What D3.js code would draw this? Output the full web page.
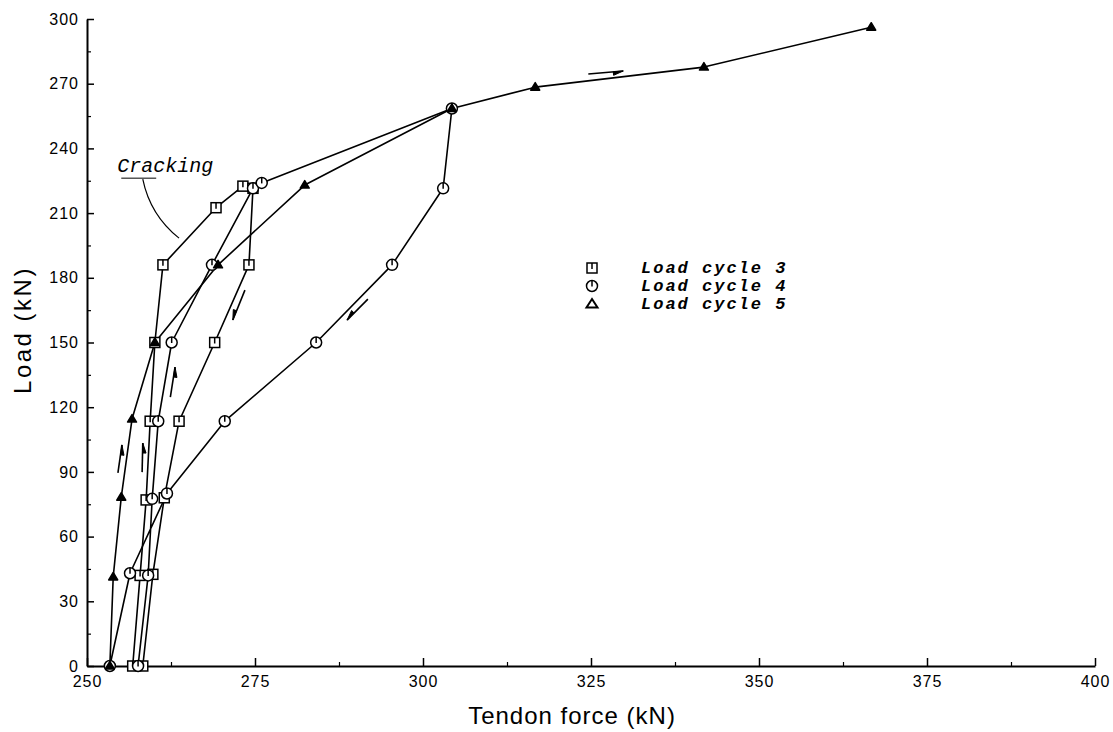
<!DOCTYPE html>
<html>
<head>
<meta charset="utf-8">
<script src="https://cdn.jsdelivr.net/npm/d3@7"></script>
<style>
  body { margin: 0; background: #fff; }
  svg { display: block; }
</style>
</head>
<body>
<div id="chart"></div>
<script>
/** Tendon force vs load, load cycles 3-5 *******************/

// Axis ticks
var xMajorTicks = [250, 275, 300, 325, 350, 375, 400];
var xMinorTicks = [262.5, 287.5, 312.5, 337.5, 362.5, 387.5];
var yMajorTicks = [0, 30, 60, 90, 120, 150, 180, 210, 240, 270, 300];
var yMinorTicks = [15, 45, 75, 105, 135, 165, 195, 225, 255, 285];

// [tendon force (kN), load (kN)]
var cycle3 = [
    [256.8, 0], [257.9, 42], [258.8, 77], [259.4, 113.5], [260.1, 150],
    [261.3, 186], [269.2, 212.5], [273.2, 222.5], [274.7, 221.5],
    [274.1, 186], [269.0, 150], [263.7, 113.5], [261.5, 78],
    [259.8, 42.5], [258.3, 0]
];
var cycle4 = [
    [257.6, 0], [259.1, 42], [259.7, 77.5], [260.6, 113.5], [262.6, 150],
    [268.6, 186], [274.7, 221.5], [276.0, 224], [304.3, 258.5],
    [303.0, 221.5], [295.4, 186], [284.1, 150], [270.5, 113.5],
    [261.9, 80], [256.4, 43], [253.4, 0]
];
var cycle5 = [
    [253.4, 0], [253.9, 41.3], [255.1, 78.3], [256.7, 114.5], [260.1, 150],
    [269.5, 186], [282.4, 223], [304.3, 258.5], [316.7, 268.4],
    [341.8, 277.7], [366.7, 296.2]
];

// Direction arrows [x1, y1, x2, y2] in data units
var arrows = [
    [324.6, 274.5, 329.8, 275.9],
    [291.8, 170.1, 288.7, 160.4],
    [273.5, 174.3, 271.7, 160.4],
    [262.4, 124.7, 263.1, 138.6],
    [254.6, 89.5, 255.2, 102.5],
    [258.2, 89.9, 258.3, 103.4]
];

var legendLabels = ["Load cycle 3", "Load cycle 4", "Load cycle 5"];

//**************************************************/

var svgWidth = 1113;
var svgHeight = 732;
var lineWidth = 1.6;

var x = d3.scaleLinear().domain([250, 400]).range([87, 1095]);
var y = d3.scaleLinear().domain([0, 300]).range([666, 19]);

var svg = d3.select("#chart").append("svg")
    .attr("width", svgWidth)
    .attr("height", svgHeight);

// Y axis, major ticks with labels
svg.append("g")
    .attr("transform", "translate(" + x(250) + ",0)")
    .call(d3.axisLeft(y).tickValues(yMajorTicks).tickSize(-7).tickSizeOuter(0).tickPadding(8))
    .call(function(g) {
        g.select(".domain").attr("stroke-width", 2);
        g.selectAll(".tick line").attr("stroke-width", 1.5);
        g.selectAll(".tick text")
            .style("font-family", "'Liberation Sans', Arial, sans-serif")
            .style("font-size", "16px")
            .style("letter-spacing", "1px")
            .attr("fill", "#000");
    });

// Y axis, minor ticks
svg.append("g")
    .attr("transform", "translate(" + x(250) + ",0)")
    .call(d3.axisLeft(y).tickValues(yMinorTicks).tickSize(-4).tickSizeOuter(0).tickFormat(""))
    .call(function(g) {
        g.select(".domain").remove();
        g.selectAll(".tick line").attr("stroke-width", 1.2);
    });

// X axis, major ticks with labels
svg.append("g")
    .attr("transform", "translate(0," + y(0) + ")")
    .call(d3.axisBottom(x).tickValues(xMajorTicks).tickSize(-8).tickSizeOuter(0).tickPadding(10))
    .call(function(g) {
        g.select(".domain").attr("stroke-width", 2);
        g.selectAll(".tick line").attr("stroke-width", 1.5);
        g.selectAll(".tick text")
            .style("font-family", "'Liberation Sans', Arial, sans-serif")
            .style("font-size", "16px")
            .style("letter-spacing", "1px")
            .attr("fill", "#000");
    });

// X axis, minor ticks
svg.append("g")
    .attr("transform", "translate(0," + y(0) + ")")
    .call(d3.axisBottom(x).tickValues(xMinorTicks).tickSize(-4).tickSizeOuter(0).tickFormat(""))
    .call(function(g) {
        g.select(".domain").remove();
        g.selectAll(".tick line").attr("stroke-width", 1.2);
    });

// Axis titles
svg.append("text")
    .attr("x", 572)
    .attr("y", 724)
    .attr("text-anchor", "middle")
    .style("font-family", "'Liberation Sans', Arial, sans-serif")
    .style("font-size", "24px")
    .style("letter-spacing", "1px")
    .text("Tendon force (kN)");

svg.append("text")
    .attr("transform", "translate(31,330) rotate(-90)")
    .attr("text-anchor", "middle")
    .style("font-family", "'Liberation Sans', Arial, sans-serif")
    .style("font-size", "24px")
    .style("letter-spacing", "2.5px")
    .text("Load (kN)");

// Marker shapes
function squareMarker(g) {
    g.append("rect")
        .attr("x", -5).attr("y", -5)
        .attr("width", 10).attr("height", 10)
        .attr("fill", "#fff").attr("stroke", "#000").attr("stroke-width", 1.5);
    g.append("line")
        .attr("x1", 0).attr("y1", -5).attr("x2", 0).attr("y2", 1)
        .attr("stroke", "#000").attr("stroke-width", 1.5);
}

function circleMarker(g) {
    g.append("circle")
        .attr("r", 5.5)
        .attr("fill", "#fff").attr("stroke", "#000").attr("stroke-width", 1.5);
    g.append("line")
        .attr("x1", 0).attr("y1", -5.5).attr("x2", 0).attr("y2", 0.5)
        .attr("stroke", "#000").attr("stroke-width", 1.5);
}

function triangleMarker(g) {
    g.append("path")
        .attr("d", "M0,-4.5L4.5,3L-4.5,3Z")
        .attr("fill", "#000").attr("stroke", "#000").attr("stroke-width", 1.5)
        .attr("stroke-linejoin", "round");
}

var series = [
    { data: cycle3, marker: squareMarker },
    { data: cycle4, marker: circleMarker },
    { data: cycle5, marker: triangleMarker }
];

var line = d3.line()
    .x(function(d) { return x(d[0]); })
    .y(function(d) { return y(d[1]); });

// Lines first, then markers on top
series.forEach(function(s) {
    svg.append("path")
        .datum(s.data)
        .attr("d", line)
        .attr("fill", "none")
        .attr("stroke", "#000")
        .attr("stroke-width", lineWidth)
        .attr("stroke-linejoin", "round");
});

series.forEach(function(s) {
    svg.append("g").selectAll("g")
        .data(s.data)
      .enter().append("g")
        .attr("transform", function(d) { return "translate(" + x(d[0]) + "," + y(d[1]) + ")"; })
        .each(function() { s.marker(d3.select(this)); });
});

// Direction arrows with a half head
arrows.forEach(function(a) {
    var x1 = x(a[0]), y1 = y(a[1]), x2 = x(a[2]), y2 = y(a[3]);
    var len = Math.sqrt((x2 - x1) * (x2 - x1) + (y2 - y1) * (y2 - y1));
    var ux = (x2 - x1) / len, uy = (y2 - y1) / len;
    var bx = x2 - ux * 10, by = y2 - uy * 10;
    svg.append("line")
        .attr("x1", x1).attr("y1", y1).attr("x2", x2).attr("y2", y2)
        .attr("stroke", "#000").attr("stroke-width", 1.6);
    svg.append("path")
        .attr("d", "M" + x2 + "," + y2 + "L" + (bx - uy * 3.5) + "," + (by + ux * 3.5) + "L" + bx + "," + by + "Z")
        .attr("fill", "#000").attr("stroke", "#000").attr("stroke-width", 1);
});

// Cracking note
svg.append("text")
    .attr("x", x(254.5))
    .attr("y", y(229))
    .style("font-family", "'Liberation Mono', 'Courier New', monospace")
    .style("font-style", "italic")
    .style("font-size", "20px")
    .text("Cracking");

svg.append("line")
    .attr("x1", x(255.1)).attr("y1", y(226.2))
    .attr("x2", x(260.3)).attr("y2", y(226.2))
    .attr("stroke", "#000").attr("stroke-width", 1);

svg.append("path")
    .attr("d", "M" + x(258.3) + "," + y(225.8) + "Q" + x(259.4) + "," + y(209.1) + " " + x(263.7) + "," + y(198.4))
    .attr("fill", "none").attr("stroke", "#000").attr("stroke-width", 1.2);

// Legend
var legend = svg.append("g").attr("transform", "translate(592,268)");
var legendMarkers = [squareMarker, circleMarker, triangleMarker];

legendLabels.forEach(function(label, i) {
    var row = legend.append("g").attr("transform", "translate(0," + (i * 18) + ")");
    if (i == 2) {
        row.append("path")
            .attr("d", "M0,-5L5.5,3.5L-5.5,3.5Z")
            .attr("fill", "#fff").attr("stroke", "#000").attr("stroke-width", 2);
    } else {
        legendMarkers[i](row);
    }
    row.append("text")
        .attr("x", 49)
        .attr("y", 5)
        .style("font-family", "'Liberation Mono', 'Courier New', monospace")
        .style("font-style", "italic")
        .style("font-weight", "bold")
        .style("font-size", "17px")
        .style("letter-spacing", "2px")
        .text(label);
});
</script>
</body>
</html>
